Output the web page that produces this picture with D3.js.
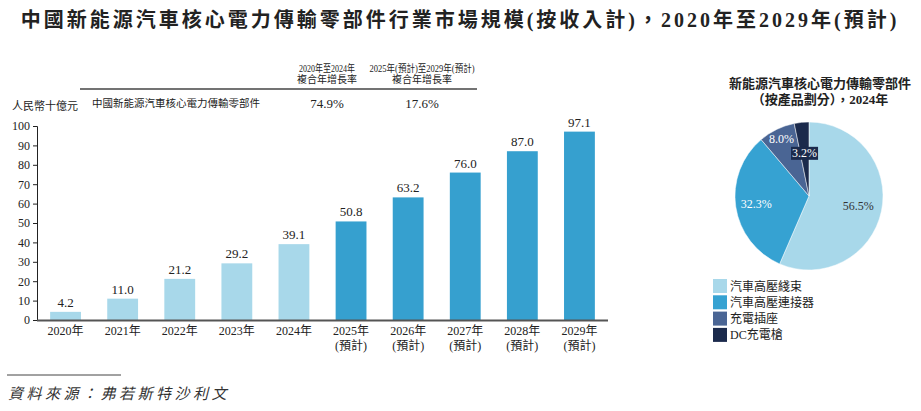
<!DOCTYPE html>
<html>
<head>
<meta charset="utf-8">
<script src="https://cdn.jsdelivr.net/npm/d3@7"></script>
<style>
    body { margin: 0; background: #fff; }
    svg text { font-family: "Liberation Serif", "Noto Sans CJK TC", serif; }
</style>
</head>
<body>
<div id="chart"></div>
<script>
// datos del gráfico de barras
const years = ["2020年", "2021年", "2022年", "2023年", "2024年", "2025年", "2026年", "2027年", "2028年", "2029年"];
const forecast = [false, false, false, false, false, true, true, true, true, true];
const values = [4.2, 11.0, 21.2, 29.2, 39.1, 50.8, 63.2, 76.0, 87.0, 97.1];
const yTicks = [0, 10, 20, 30, 40, 50, 60, 70, 80, 90, 100];

// tabla de CAGR
const cagrHeaders = [["2020年至2024年", "複合年增長率"], ["2025年(預計)至2029年(預計)", "複合年增長率"]];
const cagrRowLabel = "中國新能源汽車核心電力傳輸零部件";
const cagrValues = ["74.9%", "17.6%"];

// datos del pastel
const pieLabels = ["汽車高壓綫束", "汽車高壓連接器", "充電插座", "DC充電槍"];
const pieValues = [56.5, 32.3, 8.0, 3.2];

document.addEventListener("DOMContentLoaded", function () {
    const width = 921, height = 411;
    const svg = d3.select("#chart").append("svg").attr("width", width).attr("height", height);

    // título
    svg.append("text")
        .attr("x", 460).attr("y", 27)
        .attr("text-anchor", "middle")
        .attr("font-size", 20).attr("font-weight", "bold")
        .attr("letter-spacing", 3)
        .attr("fill", "#222")
        .text("中國新能源汽車核心電力傳輸零部件行業市場規模(按收入計)，2020年至2029年(預計)");

    // escalas
    const x = d3.scaleBand().domain(years).range([37, 608]).paddingInner(0.46).paddingOuter(0.23);
    const y = d3.scaleLinear().domain([0, 100]).range([320, 126]);

    // eje Y
    const yAxis = svg.append("g")
        .attr("transform", "translate(37,0)")
        .call(d3.axisLeft(y).tickValues(yTicks).tickSize(4).tickPadding(3));
    yAxis.select(".domain").attr("stroke", "#222");
    yAxis.selectAll(".tick line").attr("stroke", "#222");
    yAxis.selectAll("text").attr("font-size", 12).attr("fill", "#222")
        .style("font-family", "'Liberation Serif', serif");

    svg.append("text").attr("x", 12).attr("y", 110).attr("font-size", 11).attr("fill", "#222").text("人民幣十億元");

    // barras
    svg.selectAll(".bar")
        .data(values)
        .enter()
        .append("rect")
        .attr("class", "bar")
        .attr("x", (d, i) => x(years[i]))
        .attr("y", d => y(d))
        .attr("width", x.bandwidth())
        .attr("height", d => y(0) - y(d))
        .attr("fill", (d, i) => forecast[i] ? "#36a0cf" : "#a8d8ea");

    svg.selectAll(".val")
        .data(values)
        .enter()
        .append("text")
        .attr("x", (d, i) => x(years[i]) + x.bandwidth() / 2)
        .attr("y", d => y(d) - 5)
        .attr("text-anchor", "middle")
        .attr("font-size", 13)
        .attr("fill", "#222")
        .text(d => d.toFixed(1));

    // eje X
    svg.append("line").attr("x1", 37).attr("x2", 608).attr("y1", 320.5).attr("y2", 320.5)
        .attr("stroke", "#555").attr("stroke-width", 2);

    const xl = svg.selectAll(".xl")
        .data(years)
        .enter()
        .append("text")
        .attr("text-anchor", "middle")
        .attr("font-size", 12)
        .attr("fill", "#222");
    xl.append("tspan")
        .attr("x", d => x(d) + x.bandwidth() / 2)
        .attr("y", 335)
        .text(d => d);
    xl.filter((d, i) => forecast[i]).append("tspan")
        .attr("x", d => x(d) + x.bandwidth() / 2)
        .attr("y", 350)
        .text("(預計)");

    // tabla CAGR
    const colX = [327, 422];
    const headW = [56, 105];
    cagrHeaders.forEach((h, i) => {
        h.forEach((line, j) => {
            const t = svg.append("text").attr("x", colX[i]).attr("y", 72 + j * 11)
                .attr("text-anchor", "middle").attr("font-size", 10).attr("fill", "#222").text(line);
            if (j === 0) t.attr("textLength", headW[i]).attr("lengthAdjust", "spacingAndGlyphs");
        });
    });
    svg.append("line").attr("x1", 80).attr("x2", 477).attr("y1", 89).attr("y2", 89)
        .attr("stroke", "#444").attr("stroke-width", 1.5);
    svg.append("text").attr("x", 92).attr("y", 107).attr("font-size", 10.5).attr("fill", "#222").text(cagrRowLabel);
    cagrValues.forEach((v, i) => {
        svg.append("text").attr("x", colX[i]).attr("y", 108)
            .attr("text-anchor", "middle").attr("font-size", 13).attr("fill", "#222").text(v);
    });

    // pastel
    const pieColors = ["#a8d8ea", "#36a2d2", "#4a6594", "#1b2a4c"];
    const cx = 809, cy = 196, r = 74;
    svg.append("text").attr("x", 820).attr("y", 88).attr("text-anchor", "middle").attr("fill", "#222")
        .attr("font-size", 13).attr("font-weight", "bold").text("新能源汽車核心電力傳輸零部件");
    svg.append("text").attr("x", 820).attr("y", 104).attr("text-anchor", "middle").attr("fill", "#222")
        .attr("font-size", 13).attr("font-weight", "bold").text("（按產品劃分），2024年");

    const pie = d3.pie().sort(null).value(d => d);
    const arcs = pie(pieValues);
    const arc = d3.arc().innerRadius(0).outerRadius(r);
    const pg = svg.append("g").attr("transform", `translate(${cx},${cy})`);
    pg.selectAll("path")
        .data(arcs)
        .enter()
        .append("path")
        .attr("d", arc)
        .attr("fill", (d, i) => pieColors[i])
        .attr("stroke", "#fff").attr("stroke-width", 0.5);

    const labelRadius = [0.68, 0.72, 0.85, 0.6];
    arcs.forEach((a, i) => {
        const [lx, ly] = d3.arc().innerRadius(r * labelRadius[i]).outerRadius(r * labelRadius[i]).centroid(a);
        const t = pg.append("text")
            .attr("x", lx).attr("y", ly + 4)
            .attr("text-anchor", "middle")
            .attr("font-size", 12)
            .attr("fill", i === 0 ? "#333" : "#fff")
            .text(pieValues[i].toFixed(1) + "%");
        if (i === 3) {
            t.attr("y", ly + 5);
            const b = t.node().getBBox();
            pg.insert("rect", () => t.node())
                .attr("x", b.x - 1).attr("y", b.y + 1).attr("width", b.width + 2).attr("height", b.height - 1)
                .attr("fill", pieColors[3]);
        }
    });

    // leyenda
    pieLabels.forEach((l, i) => {
        const ly = 286 + i * 16.3;
        svg.append("rect").attr("x", 713).attr("y", ly - 7).attr("width", 14).attr("height", 14)
            .attr("fill", pieColors[i]);
        svg.append("text").attr("x", 730).attr("y", ly + 4.5).attr("font-size", 12).attr("fill", "#222").text(l);
    });

    // fuente
    svg.append("line").attr("x1", 7).attr("x2", 121).attr("y1", 375).attr("y2", 375)
        .attr("stroke", "#444").attr("stroke-width", 1);
    svg.append("text").attr("x", 8).attr("y", 399)
        .attr("font-size", 15).attr("font-style", "italic").attr("letter-spacing", 3.5)
        .attr("fill", "#333")
        .text("資料來源：弗若斯特沙利文");
});
</script>
</body>
</html>
